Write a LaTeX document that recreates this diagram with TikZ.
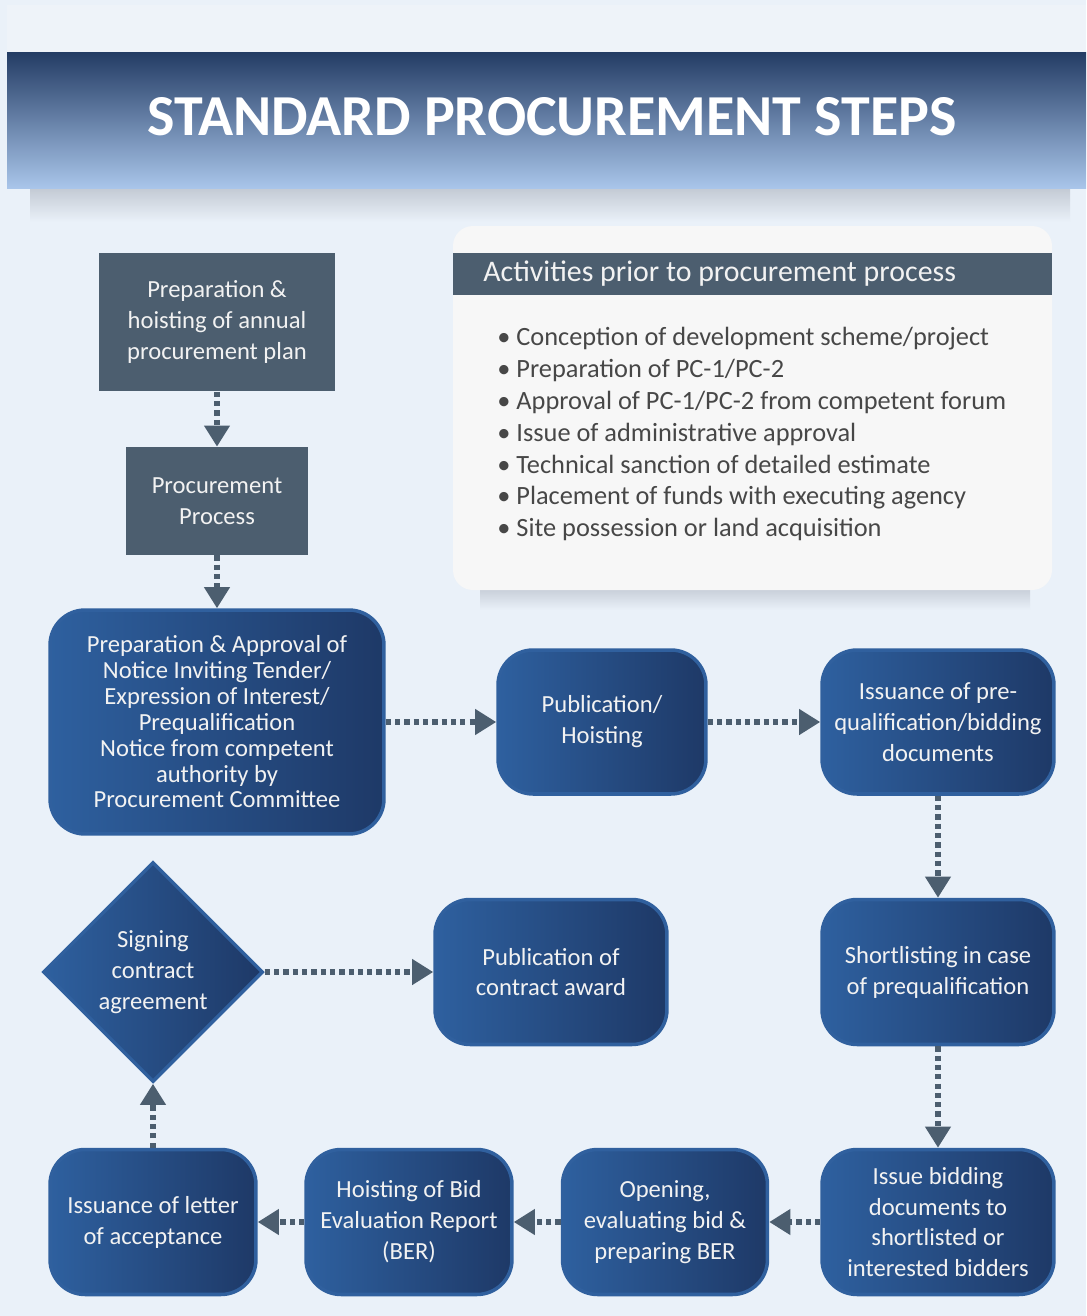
\documentclass[tikz,border=0pt]{standalone}
\usepackage{fontspec}
\setmainfont{Carlito}
\usepackage{xcolor}
\usetikzlibrary{arrows.meta,shapes.geometric,positioning}

\definecolor{pagebg}{HTML}{EAF1F9}
\definecolor{topbg}{HTML}{EEF3F9}
\definecolor{hdrtop}{HTML}{233C64}
\definecolor{hdrmid}{HTML}{486390}
\definecolor{hdrbot}{HTML}{A9C5EA}
\definecolor{hdrshadow}{HTML}{C3CAD4}
\definecolor{slate}{HTML}{4C5E6F}
\definecolor{boxleft}{HTML}{2E609F}
\definecolor{boxright}{HTML}{1E3967}
\definecolor{boxedge}{HTML}{30609E}
\definecolor{boxtext}{HTML}{F2F2F2}
\definecolor{panelbg}{HTML}{F7F7F7}
\definecolor{listtext}{HTML}{474747}

\newcommand{\bannerfont}{\fontsize{33}{38}\selectfont\bfseries}
\newcommand{\boxtextfont}{\fontsize{14}{17.6}\selectfont}
\newcommand{\panelheadfont}{\fontsize{17}{20}\selectfont}
\newcommand{\panellistfont}{\fontsize{15}{18.2}\selectfont}

\tikzset{
	graybox/.style={rectangle, fill=slate, text=boxtext, align=center, font=\boxtextfont, inner sep=0pt},
	bluebox/.style={rectangle, rounded corners=0.7cm, draw=boxedge, line width=2pt, left color=boxleft, right color=boxright, text=boxtext, align=center, font=\boxtextfont, inner sep=0pt},
	decision/.style={diamond, aspect=1, draw=boxedge, line width=2pt, left color=boxleft, right color=boxright, text=boxtext, align=center, font=\boxtextfont, inner sep=0pt, minimum width=4.4cm, minimum height=4.4cm},
	flow/.style={draw=slate, line width=3pt, dash pattern=on 3pt off 2.3pt, -{Triangle[width=14pt,length=12pt]}}
}

\begin{document}
\begin{tikzpicture}[x=0.02cm, y=-0.02cm]
	\useasboundingbox (0,0) rectangle (1086,1316);
	\fill[pagebg] (0,0) rectangle (1086,1316);
	\fill[topbg] (7,5) rectangle (1086,52);
	% banner
	\shade[top color=hdrshadow, bottom color=pagebg] (30,188) rectangle (1070,222);
	\shade[top color=hdrtop, middle color=hdrmid, bottom color=hdrbot] (7,52) rectangle (1086,188);
	\node[text=white, font=\bannerfont] (banner) at (552,117) {STANDARD PROCUREMENT STEPS};

	% activities panel
	\shade[top color=hdrshadow, bottom color=pagebg] (480,586) rectangle (1030,610);
	\fill[panelbg, rounded corners=0.4cm] (453,226) rectangle (1052,590);
	\fill[slate] (453,253) rectangle (1052,295);
	\node[anchor=west, text=boxtext, font=\panelheadfont, inner sep=0pt] (priorhead) at (483,274) {Activities prior to procurement process};
	\node[anchor=west, align=left, text=listtext, font=\panellistfont, inner sep=0pt] (priorlist) at (497,434) {%
		• Conception of development scheme/project\\
		• Preparation of PC-1/PC-2\\
		• Approval of PC-1/PC-2 from competent forum\\
		• Issue of administrative approval\\
		• Technical sanction of detailed estimate\\
		• Placement of funds with executing agency\\
		• Site possession or land acquisition};

	% steps
	\node[graybox, minimum width=4.72cm, minimum height=2.78cm] (plan) at (217,322) {Preparation \&\\hoisting of annual\\procurement plan};
	\node[graybox, minimum width=3.64cm, minimum height=2.16cm] (process) at (217,501) {Procurement\\Process};
	\node[bluebox, minimum width=6.68cm, minimum height=4.48cm, font=\fontsize{14}{14.7}\selectfont] (notice) at (217,722) {Preparation \& Approval of\\Notice Inviting Tender/\\Expression of Interest/\\Prequalification\\Notice from competent\\authority by\\Procurement Committee};
	\node[bluebox, minimum width=4.16cm, minimum height=2.88cm] (publish) at (602,722) {Publication/\\Hoisting};
	\node[bluebox, minimum width=4.64cm, minimum height=2.88cm] (issuedocs) at (938,722) {Issuance of pre-\\qualification/bidding\\documents};
	\node[bluebox, minimum width=4.64cm, minimum height=2.9cm] (shortlist) at (938,972) {Shortlisting in case\\of prequalification};
	\node[bluebox, minimum width=4.64cm, minimum height=2.9cm] (issuebid) at (938,1222) {Issue bidding\\documents to\\shortlisted or\\interested bidders};
	\node[bluebox, minimum width=4.1cm, minimum height=2.9cm] (opening) at (665,1222) {Opening,\\evaluating bid \&\\preparing BER};
	\node[bluebox, minimum width=4.12cm, minimum height=2.9cm] (berhoist) at (409,1222) {Hoisting of Bid\\Evaluation Report\\(BER)};
	\node[bluebox, minimum width=4.12cm, minimum height=2.9cm] (acceptance) at (153,1222) {Issuance of letter\\of acceptance};
	\node[decision] (signing) at (153,972) {Signing\\contract\\agreement};
	\node[bluebox, minimum width=4.64cm, minimum height=2.9cm] (award) at (551,972) {Publication of\\contract award};

	% connectors
	\draw[flow] (plan) -- (process);
	\draw[flow] (process) -- (notice);
	\draw[flow] (notice.east) -- (publish.west);
	\draw[flow] (publish.east) -- (issuedocs.west);
	\draw[flow] (issuedocs) -- (shortlist);
	\draw[flow] (shortlist) -- (issuebid);
	\draw[flow] (issuebid.west) -- (opening.east);
	\draw[flow] (opening.west) -- (berhoist.east);
	\draw[flow] (berhoist.west) -- (acceptance.east);
	\draw[flow] (acceptance.north) -- (signing.south);
	\draw[flow] (signing.east) -- (award.west);
\end{tikzpicture}
\end{document}
